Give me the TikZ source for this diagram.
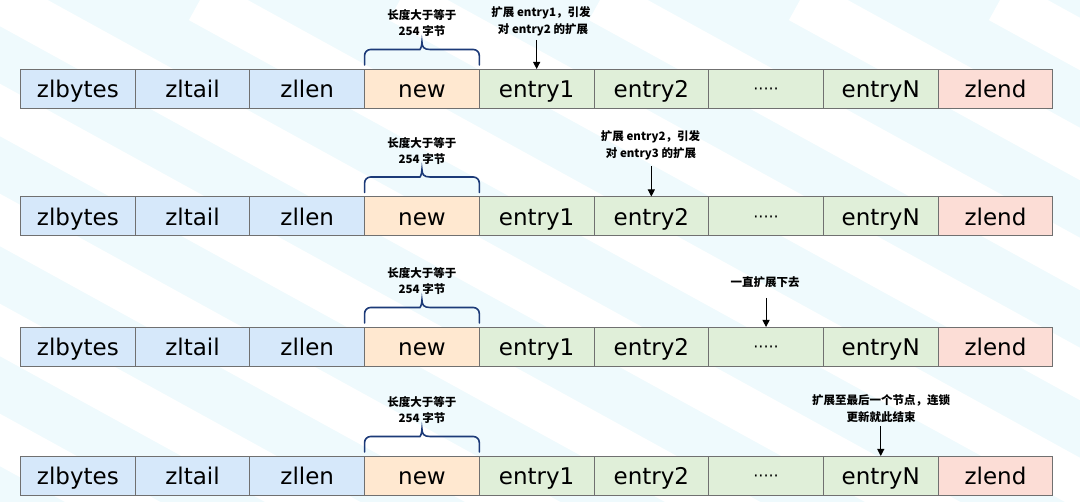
\documentclass[tikz,border=0pt]{standalone}
\usepackage{fontspec}
\setmainfont{DejaVu Sans}
\newfontfamily\cjk{Noto Sans CJK SC}
\usetikzlibrary{arrows.meta}
\newcommand\myfivedots{{\fontsize{16}{18}\selectfont\raisebox{3.2pt}{·····}}}
\definecolor{bgc}{HTML}{EFFAFD}
\definecolor{cb}{HTML}{D6E8FA}
\definecolor{co}{HTML}{FFE8D0}
\definecolor{cg}{HTML}{E0EFD9}
\definecolor{cr}{HTML}{FCDDD6}
\definecolor{boxline}{HTML}{707070}
\definecolor{bracec}{HTML}{1C3A78}
\tikzset{
  cell/.style={draw=boxline, line width=0.9pt, minimum width=114.7pt, minimum height=39pt,
    inner sep=0pt, outer sep=0pt, anchor=north west, text height=18.6pt, text depth=0pt,
    font=\fontsize{23}{26}\selectfont},
  lab/.style={inner sep=0pt, font=\cjk\bfseries\fontsize{11.5}{13}\selectfont},
  arr/.style={line width=1pt, -{Triangle[length=7pt,width=7pt]}},
  bracestyle/.style={draw=bracec, line width=1.6pt, line cap=round}
}
\begin{document}
\begin{tikzpicture}[x=1pt,y=-1pt]
\useasboundingbox (0,0) rectangle (1080,502);
\fill[bgc] (0,0) rectangle (1080,502);
\begin{scope}
\clip (0,0) rectangle (1080,502);
\foreach \k in {-6,...,6}
  \draw[white, line width=46pt] ({\k*200},0) -- ++(1400,770);
\end{scope}
% rows of cells
\foreach \r/\t in {1/69,2/196.5,3/327,4/456} {
  \foreach \i/\txt/\c in {0/zlbytes/cb,1/zltail/cb,2/zllen/cb,3/new/co,4/entry1/cg,5/entry2/cg,6/\myfivedots/cg,7/entryN/cg,8/zlend/cr}
    \node[cell, fill=\c] (r\r b\i) at ({20.5+114.7*\i},\t) {\txt};
  % brace over "new"
  \draw[bracestyle] ([yshift=4pt]r\r b3.north west) [rounded corners=6pt] -- ([yshift=19.5pt]r\r b3.north west)
     -- ([xshift=-8pt,yshift=19.5pt]r\r b3.north) [sharp corners]
     .. controls ([xshift=-2pt,yshift=19.5pt]r\r b3.north) and ([yshift=22pt]r\r b3.north) .. ([yshift=27pt]r\r b3.north)
     .. controls ([yshift=22pt]r\r b3.north) and ([xshift=2pt,yshift=19.5pt]r\r b3.north) .. ([xshift=8pt,yshift=19.5pt]r\r b3.north)
     [rounded corners=6pt] -- ([yshift=19.5pt]r\r b3.north east) -- ([yshift=4pt]r\r b3.north east);
  \node[lab] (r\r n1) at ([yshift=53.5pt]r\r b3.north) {长度大于等于};
  \node[lab] (r\r n2) at ([yshift=37.5pt]r\r b3.north) {254 字节};
}
% row 1 annotation
\node[lab] (r1a1) at (541,13) {扩展 entry1，引发};
\node[lab] (r1a2) at (543,29.5) {对 entry2 的扩展};
\draw[arr] ([yshift=29pt]r1b4.north) -- (r1b4.north);
% row 2 annotation
\node[lab] (r2a1) at (650.5,137) {扩展 entry2，引发};
\node[lab] (r2a2) at (651,154) {对 entry3 的扩展};
\draw[arr] ([yshift=30pt]r2b5.north) -- (r2b5.north);
% row 3 annotation
\node[lab] (r3a1) at (765,282) {一直扩展下去};
\draw[arr] ([yshift=29pt]r3b6.north) -- (r3b6.north);
% row 4 annotation
\node[lab] (r4a1) at (881,400) {扩展至最后一个节点，连锁};
\node[lab] (r4a2) at (881,417.5) {更新就此结束};
\draw[arr] ([yshift=30pt]r4b7.north) -- (r4b7.north);
\end{tikzpicture}
\end{document}
